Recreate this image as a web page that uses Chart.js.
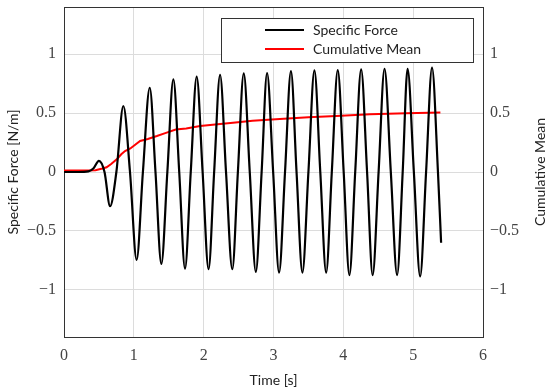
<!DOCTYPE html>
<html>
<head>
<meta charset="utf-8">
<script src="https://cdn.jsdelivr.net/npm/chart.js@4.4.1/dist/chart.umd.min.js"></script>
<style>
  body { margin: 0; background: #fff; }
  canvas { display: block; }
</style>
</head>
<body>
<canvas id="forceChart" width="550" height="391"></canvas>
<script>
// Specific force signal (peaks, troughs and crossings)
const forceTime = [0, 0.2, 0.35, 0.42, 0.50, 0.58, 0.66, 0.75, 0.85, 0.945, 1.04, 1.13, 1.228, 1.31, 1.394, 1.48,
  1.566, 1.65, 1.733, 1.815, 1.90, 1.985, 2.07, 2.15, 2.235, 2.32, 2.41, 2.49, 2.574, 2.66, 2.747, 2.83,
  2.908, 2.995, 3.08, 3.165, 3.25, 3.33, 3.414, 3.50, 3.586, 3.67, 3.754, 3.835, 3.92, 4.005, 4.087, 4.17,
  4.255, 4.34, 4.42, 4.505, 4.59, 4.68, 4.77, 4.85, 4.92, 5.01, 5.10, 5.185, 5.27, 5.355, 5.40];
const forceValues = [0, 0, 0.005, 0.03, 0.095, 0, -0.29, 0, 0.56, 0, -0.745, 0, 0.715, 0, -0.78, 0,
  0.786, 0, -0.82, 0, 0.81, 0, -0.825, 0, 0.825, 0, -0.825, 0, 0.836, 0, -0.847, 0,
  0.84, 0, -0.853, 0, 0.856, 0, -0.853, 0, 0.862, 0, -0.853, 0, 0.865, 0, -0.875, 0,
  0.87, 0, -0.875, 0, 0.876, 0, -0.875, 0, 0.876, 0, -0.886, 0, 0.885, 0, -0.6];

// Cumulative mean
const meanTime = [0, 0.3, 0.45, 0.55, 0.61, 0.68, 0.755, 0.82, 0.874, 0.95, 1.09, 1.2, 1.33, 1.45, 1.6,
  1.75, 1.95, 2.2, 2.42, 2.7, 3.09, 3.5, 3.9, 4.38, 4.9, 5.39];
const meanValues = [0.012, 0.012, 0.015, 0.03, 0.04, 0.07, 0.107, 0.15, 0.178, 0.2, 0.263, 0.28, 0.305, 0.33, 0.36,
  0.37, 0.39, 0.405, 0.418, 0.435, 0.45, 0.465, 0.475, 0.49, 0.498, 0.505];

const xTicks = [0, 1, 2, 3, 4, 5, 6];
const yTicks = [-1, -0.5, 0, 0.5, 1];
const seriesLabels = ['Specific Force', 'Cumulative Mean'];

const tickFont = { family: '"Liberation Serif", "DejaVu Serif", serif', size: 16 };
const gridColor = '#dcdcdc';
const labelFont = '14px Lato, "Open Sans", sans-serif';

function fmt(v) {
  return String(v).replace('-', '\u2212');
}

function setTicks(list) {
  return function(scale) {
    scale.ticks = list.map(v => ({ value: v }));
  };
}

// fixed axis sizes, no extra label padding
function fitY(width) {
  return function(s) {
    s.width = width;
    s.paddingTop = 0;
    s.paddingBottom = 0;
  };
}

// Legend box, axis titles and top frame
const decorations = {
  id: 'decorations',
  afterDraw(chart) {
    const ctx = chart.ctx;
    const area = chart.chartArea;
    ctx.save();
    ctx.strokeStyle = '#333';
    ctx.lineWidth = 1;
    ctx.beginPath();
    ctx.moveTo(area.left, area.top + 0.5);
    ctx.lineTo(area.right, area.top + 0.5);
    ctx.stroke();

    // legend
    const lx = 221, ly = 18, lw = 252, lh = 44;
    ctx.fillStyle = '#fff';
    ctx.fillRect(lx, ly, lw, lh);
    ctx.strokeRect(lx + 0.5, ly + 0.5, lw, lh);
    ctx.font = labelFont;
    ctx.textBaseline = 'middle';
    chart.data.datasets.forEach((ds, i) => {
      const y = ly + 12 + i * 19;
      ctx.strokeStyle = ds.borderColor;
      ctx.lineWidth = 2;
      ctx.beginPath();
      ctx.moveTo(265, y);
      ctx.lineTo(304, y);
      ctx.stroke();
      ctx.fillStyle = '#222';
      ctx.textAlign = 'left';
      ctx.fillText(ds.label, 313, y);
    });

    // axis titles
    ctx.fillStyle = '#222';
    ctx.textAlign = 'center';
    ctx.fillText('Time [s]', (area.left + area.right) / 2, 380);
    ctx.save();
    ctx.translate(13, (area.top + area.bottom) / 2);
    ctx.rotate(-Math.PI / 2);
    ctx.fillText('Specific Force [N/m]', 0, 0);
    ctx.restore();
    ctx.save();
    ctx.translate(540, (area.top + area.bottom) / 2);
    ctx.rotate(-Math.PI / 2);
    ctx.fillText('Cumulative Mean', 0, 0);
    ctx.restore();
    ctx.restore();
  }
};

const ctx = document.getElementById('forceChart').getContext('2d');
new Chart(ctx, {
  type: 'line',
  data: {
    datasets: [{
      label: seriesLabels[0],
      data: forceTime.map((t, i) => ({ x: t, y: forceValues[i] })),
      borderColor: '#000',
      borderWidth: 2.2,
      pointRadius: 0,
      cubicInterpolationMode: 'monotone',
      yAxisID: 'y'
    }, {
      label: seriesLabels[1],
      data: meanTime.map((t, i) => ({ x: t, y: meanValues[i] })),
      borderColor: '#ff0000',
      borderWidth: 2,
      pointRadius: 0,
      tension: 0,
      yAxisID: 'y2'
    }]
  },
  options: {
    responsive: false,
    animation: false,
    layout: { padding: { top: 7, left: 0, right: 0, bottom: 0 } },
    plugins: { legend: { display: false }, tooltip: { enabled: false } },
    scales: {
      x: {
        type: 'linear', min: 0, max: 6,
        afterBuildTicks: setTicks(xTicks),
        afterFit: s => { s.height = 54; s.paddingLeft = 0; s.paddingRight = 0; },
        grid: { color: gridColor, tickLength: 0 },
        border: { color: '#333' },
        ticks: { font: tickFont, color: '#444', padding: 9, callback: fmt }
      },
      y: {
        position: 'left', min: -1.4, max: 1.4,
        afterBuildTicks: setTicks(yTicks),
        afterFit: fitY(64),
        grid: { color: gridColor, tickLength: 0 },
        border: { color: '#333' },
        ticks: { font: tickFont, color: '#444', padding: 8, callback: fmt }
      },
      y2: {
        position: 'right', min: -1.4, max: 1.4,
        afterBuildTicks: setTicks(yTicks),
        afterFit: fitY(67),
        grid: { display: false, tickLength: 0 },
        border: { color: '#333' },
        ticks: { font: tickFont, color: '#444', padding: 7, callback: fmt }
      }
    }
  },
  plugins: [decorations]
});
</script>
</body>
</html>
